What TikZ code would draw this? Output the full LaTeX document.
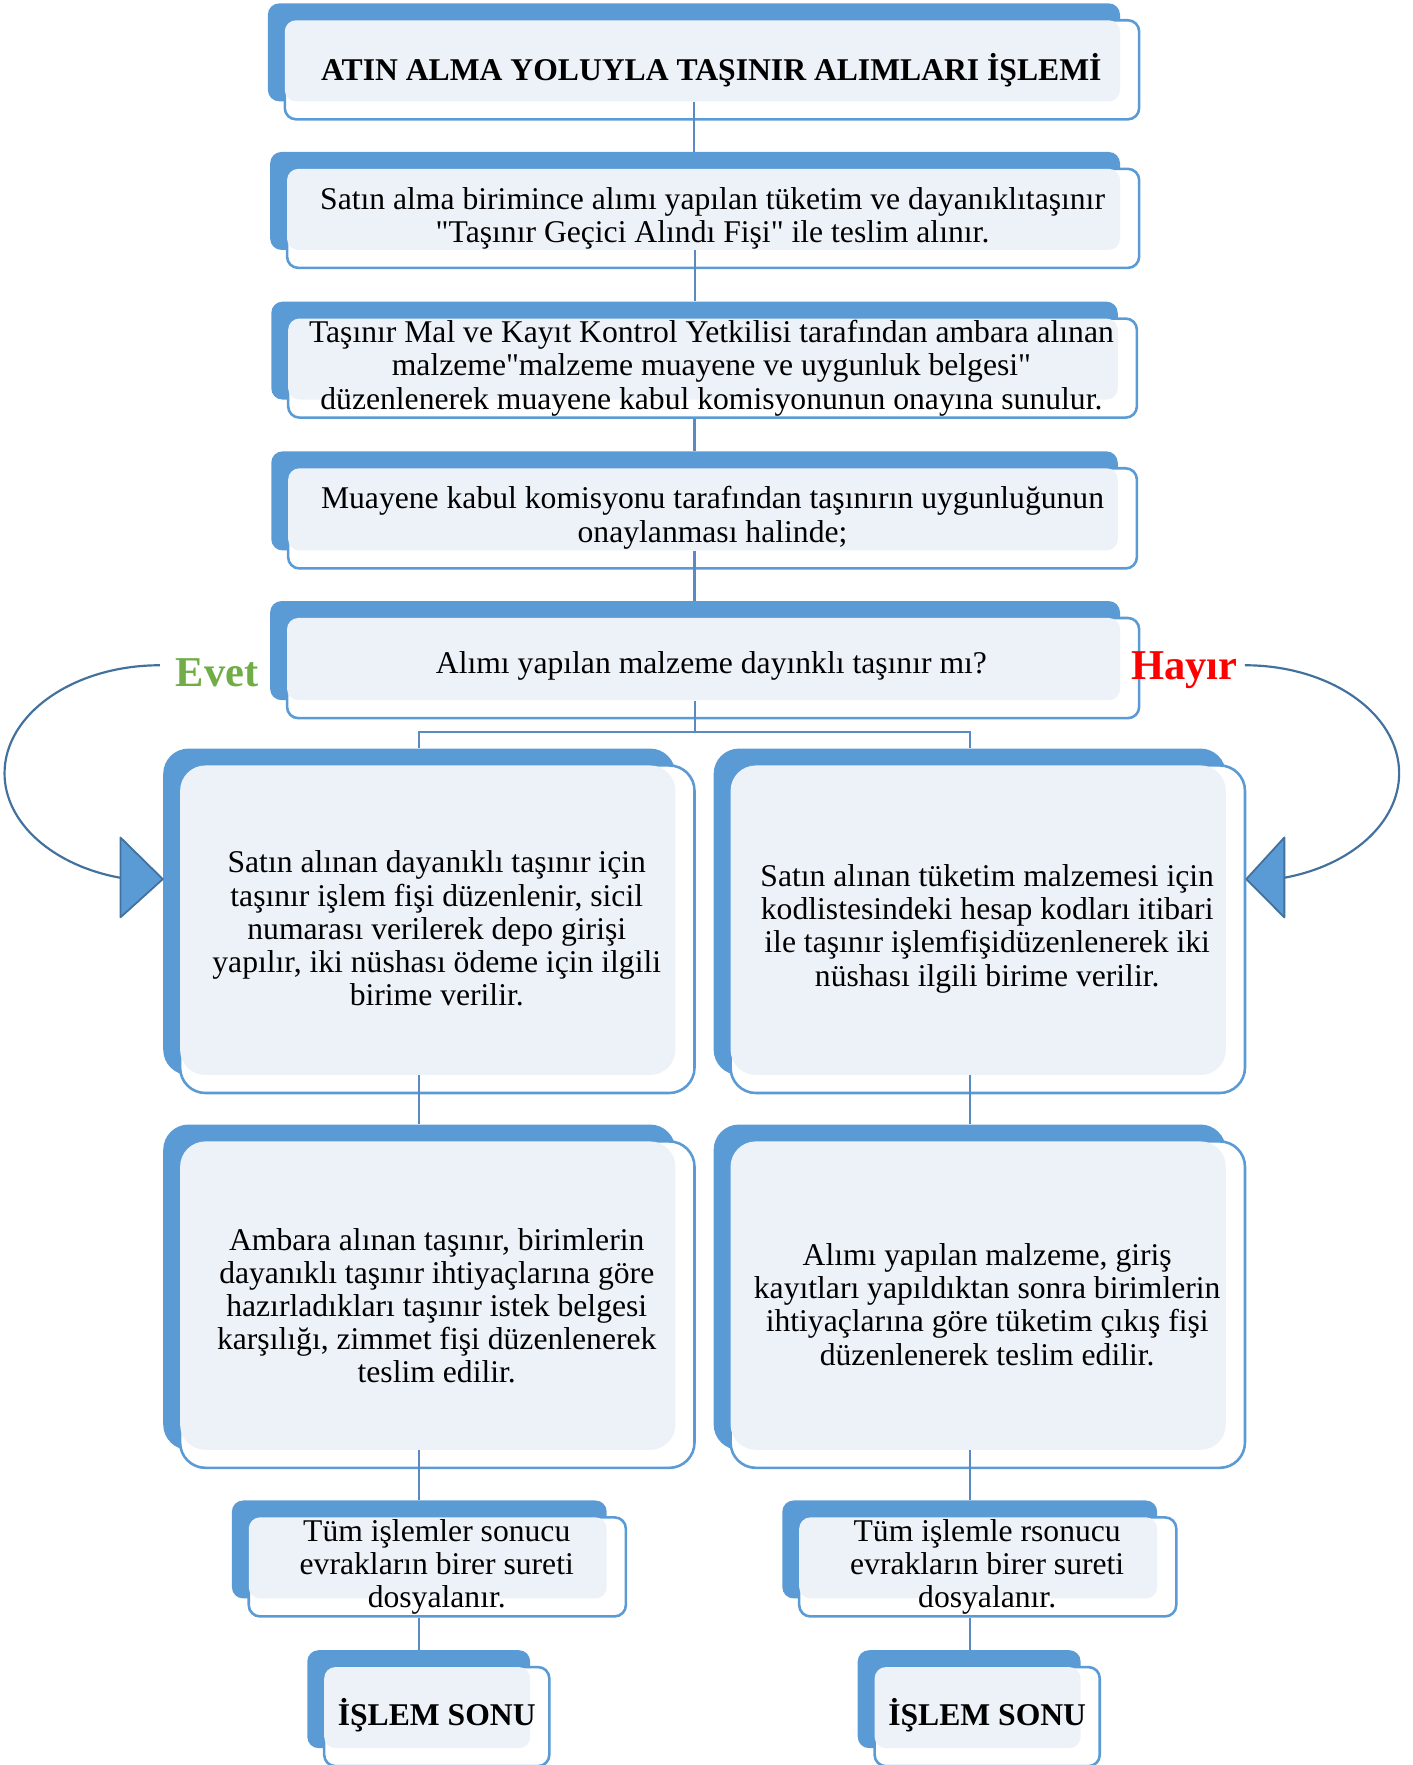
\documentclass[tikz,border=0pt]{standalone}
\usepackage{fontspec}
\setmainfont{Liberation Serif}[Ligatures=TeXOff]
\usetikzlibrary{fit}
\definecolor{kmavi}{HTML}{5B9BD5}
\definecolor{kacik}{HTML}{EDF2F9}
\definecolor{kkoyu}{HTML}{41719C}
\definecolor{kbag}{HTML}{5A8AC4}
\definecolor{kyesil}{HTML}{70AD47}
\tikzset{
  arka/.style={fill=kmavi, inner sep=0pt, rounded corners=#1},
  cerceve/.style={draw=kmavi, line width=1.3pt, fill=white, inner sep=0pt, rounded corners=#1},
  acik/.style={fill=kacik},
  bag/.style={draw=kbag, line width=1.2pt},
  metin/.style={align=center, inner sep=0pt, font=\fontsize{16}{16.8}\selectfont},
  kalin/.style={align=center, inner sep=0pt, font=\fontsize{16}{19}\selectfont\bfseries},
  cevap/.style={inner sep=0pt, font=\fontsize{21.5}{24}\selectfont\bfseries},
  egri/.style={draw=kkoyu, line width=1.1pt},
  ucgen/.style={fill=kmavi, draw=kkoyu, line width=0.9pt, line join=round}
}
% kutu: blue back, white frame, light face
\newcommand\kutu[6][0.2cm]{%
  \node[arka=#1, fit={(#3,#4) (#5,#6)}] (#2) {};
  \node[cerceve=#1, fit={(#3+15,#4+15) (#5+17,#6+16)}] (#2-c) {};
  \fill[acik, rounded corners=#1] (#3+15,#4+15) rectangle (#5,#6);
}
\begin{document}
\begin{tikzpicture}[x=0.02cm, y=-0.02cm]
\useasboundingbox (0,0) rectangle (1255,1568);
% boxes
\kutu{baslik}{238}{3}{995}{90}
\kutu{teslim}{240}{135}{995}{222}
\kutu{kontrol}{241}{268}{993}{355}
\kutu{onay}{241}{401}{993}{489}
\kutu{soru}{240}{534}{995}{622}
\kutu[0.45cm]{dayL}{145}{665}{600}{955}
\kutu[0.45cm]{tukR}{634}{665}{1089}{955}
\kutu[0.45cm]{zimL}{145}{999}{600}{1288}
\kutu[0.45cm]{cikR}{634}{999}{1089}{1288}
\kutu{dosL}{206}{1333}{539}{1420}
\kutu{dosR}{695}{1333}{1028}{1420}
\kutu{sonL}{273}{1466}{471}{1553}
\kutu{sonR}{762}{1466}{960}{1553}
% connectors
\draw[bag] (baslik.south) -- (baslik.south |- teslim.north);
\draw[bag] (teslim.south) -- (teslim.south |- kontrol.north);
\draw[bag] (kontrol.south |- kontrol-c.south) -- (kontrol.south |- onay.north);
\draw[bag] (onay.south) -- (onay.south |- soru.north);
\draw[bag] (soru.south) -- ++(0,28) -| (dayL.north);
\draw[bag] (soru.south) ++(0,28) -| (tukR.north);
\draw[bag] (dayL.south) -- (zimL.north);
\draw[bag] (tukR.south) -- (cikR.north);
\draw[bag] (zimL.south) -- (zimL.south |- dosL.north);
\draw[bag] (cikR.south) -- (cikR.south |- dosR.north);
\draw[bag] (zimL.south |- dosL-c.south) -- (zimL.south |- sonL.north);
\draw[bag] (cikR.south |- dosR-c.south) -- (cikR.south |- sonR.north);
% texts
\node[kalin] (t-baslik) at (632,62) {ATIN ALMA YOLUYLA TAŞINIR ALIMLARI İŞLEMİ};
\node[metin] (t-teslim) at (633,194) {Satın alma birimince alımı yapılan tüketim ve dayanıklıtaşınır\\"Taşınır Geçici Alındı Fişi" ile teslim alınır.};
\node[metin] (t-kontrol) at (632,327) {Taşınır Mal ve Kayıt Kontrol Yetkilisi tarafından ambara alınan\\malzeme"malzeme muayene ve uygunluk belgesi"\\düzenlenerek muayene kabul komisyonunun onayına sunulur.};
\node[metin] (t-onay) at (633,460) {Muayene kabul komisyonu tarafından taşınırın uygunluğunun\\onaylanması halinde;};
\node[metin] (t-soru) at (632,592) {Alımı yapılan malzeme dayınklı taşınır mı?};
\node[metin] (t-dayL) at (388,825) {Satın alınan dayanıklı taşınır için\\taşınır işlem fişi düzenlenir, sicil\\numarası verilerek depo girişi\\yapılır, iki nüshası ödeme için ilgili\\birime verilir.};
\node[metin] (t-tukR) at (877,825) {Satın alınan tüketim malzemesi için\\kodlistesindeki hesap kodları itibari\\ile taşınır işlemfişidüzenlenerek iki\\nüshası ilgili birime verilir.};
\node[metin] (t-zimL) at (388,1160) {Ambara alınan taşınır, birimlerin\\dayanıklı taşınır ihtiyaçlarına göre\\hazırladıkları taşınır istek belgesi\\karşılığı, zimmet fişi düzenlenerek\\teslim edilir.};
\node[metin] (t-cikR) at (877,1159) {Alımı yapılan malzeme, giriş\\kayıtları yapıldıktan sonra birimlerin\\ihtiyaçlarına göre tüketim çıkış fişi\\düzenlenerek teslim edilir.};
\node[metin] (t-dosL) at (388,1392) {Tüm işlemler sonucu\\evrakların birer sureti\\dosyalanır.};
\node[metin] (t-dosR) at (877,1392) {Tüm işlemle rsonucu\\evrakların birer sureti\\dosyalanır.};
\node[kalin] (t-sonL) at (388,1524) {İŞLEM SONU};
\node[kalin] (t-sonR) at (877,1524) {İŞLEM SONU};
% yes / no branches
\node[cevap, text=kyesil] (evet) at (193,598) {Evet};
\node[cevap, text=red] (hayir) at (1052,595) {Hayır};
\coordinate (evetuc) at (142,591);
\coordinate (hayiruc) at (1106,591);
\draw[egri] (evetuc) arc[start angle=90, end angle=255.7, x radius=2.76cm, y radius=1.92cm];
\draw[egri] (hayiruc) arc[start angle=90, end angle=-75.7, x radius=2.74cm, y radius=1.92cm];
\draw[ucgen] (107,744) -- (dayL.west |- 0,781) -- (107,815) -- cycle;
\draw[ucgen] (1141,744) -- (tukR-c.east |- 0,781) -- (1141,815) -- cycle;
\end{tikzpicture}
\end{document}
